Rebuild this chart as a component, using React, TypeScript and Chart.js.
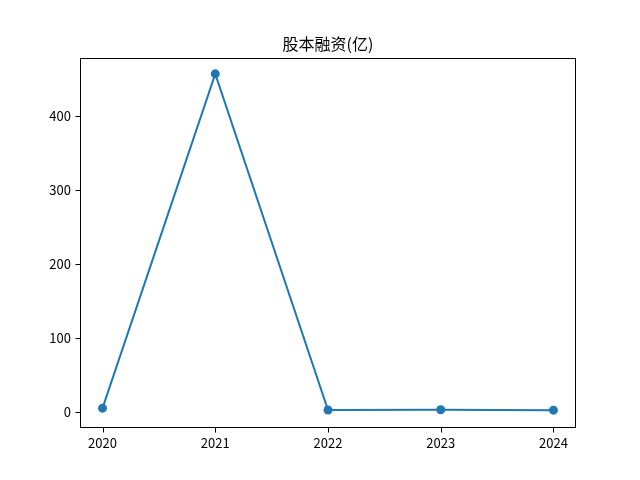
import React, { useEffect, useRef } from "react";
import { Chart, registerables } from "chart.js";

Chart.register(...registerables);

const title = "股本融资(亿)";
const years = [2020, 2021, 2022, 2023, 2024];
const values = [5.2, 457, 2.7, 3.0, 2.5];
const yTicks = [0, 100, 200, 300, 400];

const FONT = "'Noto Sans CJK SC', 'DejaVu Sans', sans-serif";

export default function App() {
  const ref = useRef<HTMLCanvasElement | null>(null);

  useEffect(() => {
    if (!ref.current) return;
    const framePlugin = {
      id: "frame",
      afterDraw(chart: any) {
        const { ctx, chartArea, scales } = chart;
        const L = Math.round(chartArea.left) + 0.5;
        const T = Math.round(chartArea.top) + 0.5;
        const R = Math.round(chartArea.right) - 0.5;
        const B = Math.round(chartArea.bottom) + 0.5;
        ctx.save();
        ctx.strokeStyle = "#000";
        ctx.lineWidth = 1;
        ctx.strokeRect(L, T, R - L, B - T);
        ctx.beginPath();
        years.forEach((v) => {
          const x = Math.round(scales.x.getPixelForValue(v)) + 0.5;
          ctx.moveTo(x, B);
          ctx.lineTo(x, B + 5);
        });
        yTicks.forEach((v) => {
          const y = Math.round(scales.y.getPixelForValue(v)) + 0.5;
          ctx.moveTo(L, y);
          ctx.lineTo(L - 5, y);
        });
        ctx.stroke();
        ctx.fillStyle = "#000";
        ctx.font = `16px ${FONT}`;
        ctx.textAlign = "center";
        ctx.textBaseline = "alphabetic";
        ctx.fillText(title, (chartArea.left + chartArea.right) / 2, 50);
        ctx.restore();
      },
    };
    const chart = new Chart(ref.current, {
      type: "line",
      data: {
        datasets: [
          {
            data: years.map((y, i) => ({ x: y, y: values[i] })),
            borderColor: "#1f77b4",
            backgroundColor: "#1f77b4",
            borderWidth: 2,
            pointRadius: 4.5,
            pointHoverRadius: 4.5,
            pointBorderWidth: 0,
            tension: 0,
          },
        ],
      },
      options: {
        responsive: false,
        animation: false,
        layout: { padding: { top: 58, right: 64, left: 0, bottom: 0 } },
        plugins: { legend: { display: false }, tooltip: { enabled: false } },
        scales: {
          x: {
            type: "linear",
            min: 2019.8,
            max: 2024.2,
            afterBuildTicks: (s: any) => {
              s.ticks = years.map((v) => ({ value: v }));
            },
            afterFit: (s: any) => {
              s.height = 53;
            },
            ticks: {
              callback: (v: any) => String(v),
              color: "#000",
              font: { family: FONT, size: 13 },
              padding: 8,
              maxRotation: 0,
              autoSkip: false,
            },
            grid: { display: false, drawTicks: false },
            border: { display: false },
          },
          y: {
            type: "linear",
            min: -20.3,
            max: 478.4,
            afterBuildTicks: (s: any) => {
              s.ticks = yTicks.map((v) => ({ value: v }));
            },
            afterFit: (s: any) => {
              s.width = 80;
            },
            ticks: {
              color: "#000",
              font: { family: FONT, size: 13 },
              padding: 9,
              autoSkip: false,
            },
            grid: { display: false, drawTicks: false },
            border: { display: false },
          },
        },
      },
      plugins: [framePlugin],
    });
    return () => chart.destroy();
  }, []);

  return (
    <div style={{ position: "fixed", left: 0, top: 0, width: 640, height: 480, background: "#fff" }}>
      <canvas ref={ref} width={640} height={480} />
    </div>
  );
}
